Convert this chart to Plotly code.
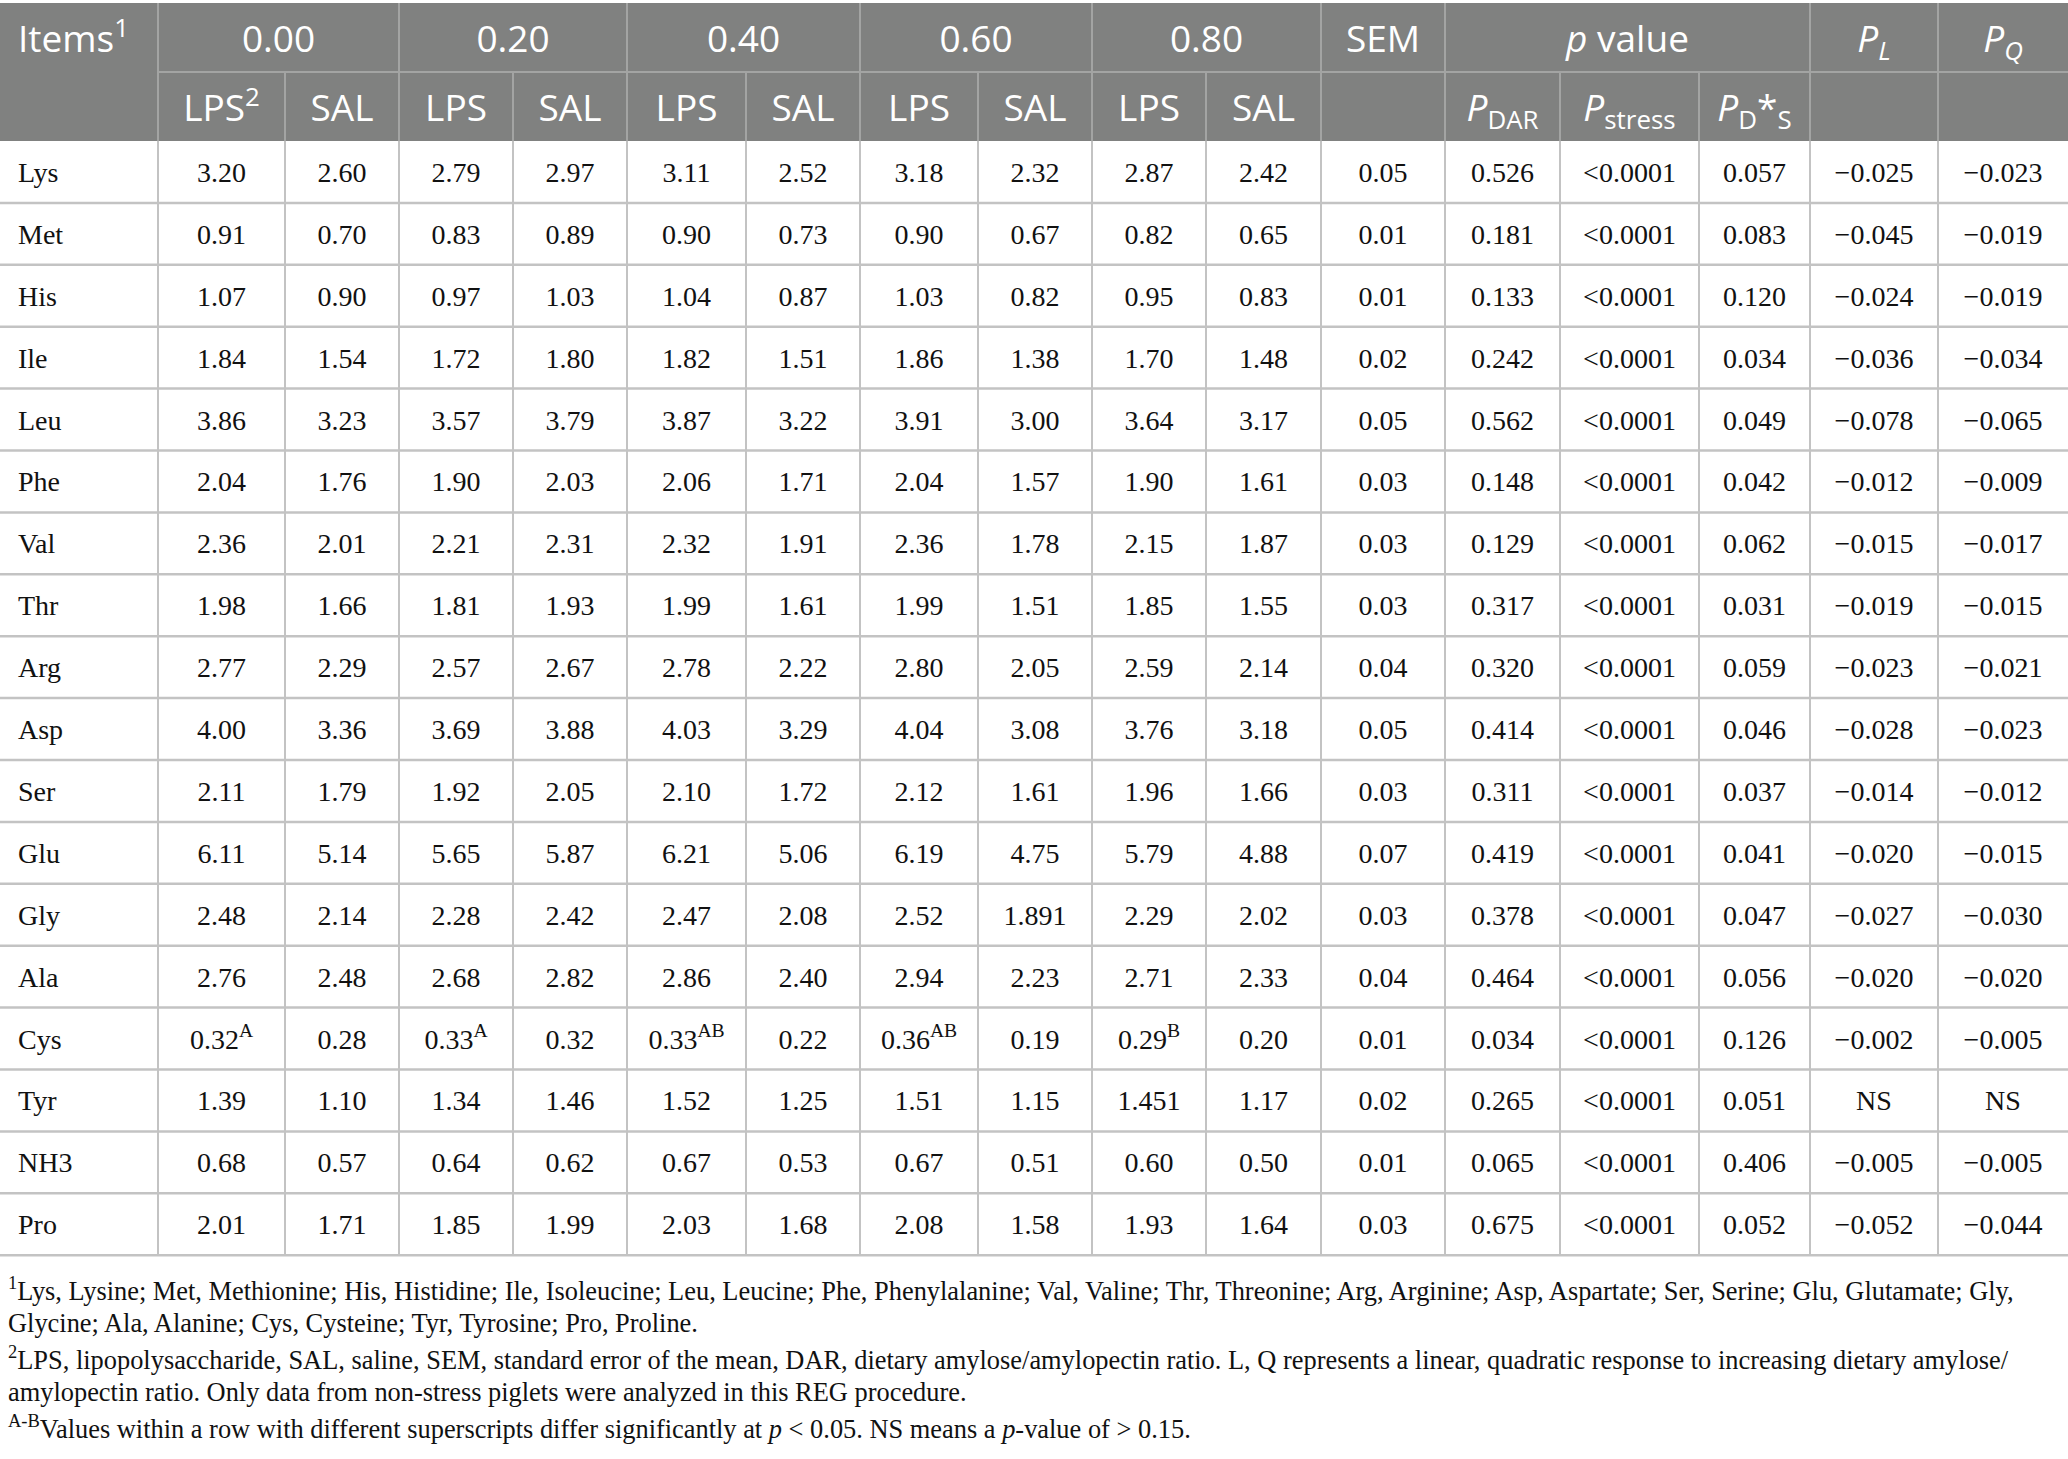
import plotly.graph_objects as go

# ----------------------------- table content -----------------------------
items = ["Lys", "Met", "His", "Ile", "Leu", "Phe", "Val", "Thr", "Arg",
         "Asp", "Ser", "Glu", "Gly", "Ala", "Cys", "Tyr", "NH3", "Pro"]

lps_000 = ["3.20", "0.91", "1.07", "1.84", "3.86", "2.04", "2.36", "1.98", "2.77",
           "4.00", "2.11", "6.11", "2.48", "2.76", "0.32<sup>A</sup>", "1.39", "0.68", "2.01"]
sal_000 = ["2.60", "0.70", "0.90", "1.54", "3.23", "1.76", "2.01", "1.66", "2.29",
           "3.36", "1.79", "5.14", "2.14", "2.48", "0.28", "1.10", "0.57", "1.71"]
lps_020 = ["2.79", "0.83", "0.97", "1.72", "3.57", "1.90", "2.21", "1.81", "2.57",
           "3.69", "1.92", "5.65", "2.28", "2.68", "0.33<sup>A</sup>", "1.34", "0.64", "1.85"]
sal_020 = ["2.97", "0.89", "1.03", "1.80", "3.79", "2.03", "2.31", "1.93", "2.67",
           "3.88", "2.05", "5.87", "2.42", "2.82", "0.32", "1.46", "0.62", "1.99"]
lps_040 = ["3.11", "0.90", "1.04", "1.82", "3.87", "2.06", "2.32", "1.99", "2.78",
           "4.03", "2.10", "6.21", "2.47", "2.86", "0.33<sup>AB</sup>", "1.52", "0.67", "2.03"]
sal_040 = ["2.52", "0.73", "0.87", "1.51", "3.22", "1.71", "1.91", "1.61", "2.22",
           "3.29", "1.72", "5.06", "2.08", "2.40", "0.22", "1.25", "0.53", "1.68"]
lps_060 = ["3.18", "0.90", "1.03", "1.86", "3.91", "2.04", "2.36", "1.99", "2.80",
           "4.04", "2.12", "6.19", "2.52", "2.94", "0.36<sup>AB</sup>", "1.51", "0.67", "2.08"]
sal_060 = ["2.32", "0.67", "0.82", "1.38", "3.00", "1.57", "1.78", "1.51", "2.05",
           "3.08", "1.61", "4.75", "1.891", "2.23", "0.19", "1.15", "0.51", "1.58"]
lps_080 = ["2.87", "0.82", "0.95", "1.70", "3.64", "1.90", "2.15", "1.85", "2.59",
           "3.76", "1.96", "5.79", "2.29", "2.71", "0.29<sup>B</sup>", "1.451", "0.60", "1.93"]
sal_080 = ["2.42", "0.65", "0.83", "1.48", "3.17", "1.61", "1.87", "1.55", "2.14",
           "3.18", "1.66", "4.88", "2.02", "2.33", "0.20", "1.17", "0.50", "1.64"]
sem = ["0.05", "0.01", "0.01", "0.02", "0.05", "0.03", "0.03", "0.03", "0.04",
       "0.05", "0.03", "0.07", "0.03", "0.04", "0.01", "0.02", "0.01", "0.03"]
p_dar = ["0.526", "0.181", "0.133", "0.242", "0.562", "0.148", "0.129", "0.317", "0.320",
         "0.414", "0.311", "0.419", "0.378", "0.464", "0.034", "0.265", "0.065", "0.675"]
p_stress = ["&lt;0.0001"] * 18
p_dxs = ["0.057", "0.083", "0.120", "0.034", "0.049", "0.042", "0.062", "0.031", "0.059",
         "0.046", "0.037", "0.041", "0.047", "0.056", "0.126", "0.051", "0.406", "0.052"]
p_l = ["−0.025", "−0.045", "−0.024", "−0.036", "−0.078", "−0.012", "−0.015", "−0.019", "−0.023",
       "−0.028", "−0.014", "−0.020", "−0.027", "−0.020", "−0.002", "NS", "−0.005", "−0.052"]
p_q = ["−0.023", "−0.019", "−0.019", "−0.034", "−0.065", "−0.009", "−0.017", "−0.015", "−0.021",
       "−0.023", "−0.012", "−0.015", "−0.030", "−0.020", "−0.005", "NS", "−0.005", "−0.044"]

group_labels = ["0.00", "0.20", "0.40", "0.60", "0.80"]
sub_labels = ["LPS<sup>2</sup>", "SAL", "LPS", "SAL", "LPS", "SAL", "LPS", "SAL", "LPS", "SAL",
              "", "<i>P</i><sub>DAR</sub>", "<i>P</i><sub>stress</sub>", "<i>P</i><sub>D</sub>*<sub>S</sub>", "", ""]

footnotes = [
    "<sup>1</sup>Lys, Lysine; Met, Methionine; His, Histidine; Ile, Isoleucine; Leu, Leucine; Phe, Phenylalanine; "
    "Val, Valine; Thr, Threonine; Arg, Arginine; Asp, Aspartate; Ser, Serine; Glu, Glutamate; Gly,",
    "Glycine; Ala, Alanine; Cys, Cysteine; Tyr, Tyrosine; Pro, Proline.",
    "<sup>2</sup>LPS, lipopolysaccharide, SAL, saline, SEM, standard error of the mean, DAR, dietary "
    "amylose/amylopectin ratio. L, Q represents a linear, quadratic response to increasing dietary amylose/",
    "amylopectin ratio. Only data from non-stress piglets were analyzed in this REG procedure.",
    "<sup>A-B</sup>Values within a row with different superscripts differ significantly at <i>p</i> &lt; 0.05. "
    "NS means a <i>p</i>-value of &gt; 0.15.",
]

columns = [lps_000, sal_000, lps_020, sal_020, lps_040, sal_040, lps_060, sal_060,
           lps_080, sal_080, sem, p_dar, p_stress, p_dxs, p_l, p_q]

# ----------------------------- geometry (pixels) -------------------------
W, H = 2068, 1459
edges = [0, 158, 285, 399, 513, 627, 746, 860, 978, 1092, 1206, 1321, 1445, 1560, 1699, 1810, 1938, 2068]
top, mid, head_bot = 3, 72, 141
row_h = 61.9
n = len(items)
row_y = [head_bot + row_h * (i + 0.5) + 3 for i in range(n)]
table_bot = head_bot + row_h * n

head_bg = "#808180"
head_line = "#a3a4a3"
grid = "#c3c3c3"
serif = "Liberation Serif"
sans = "Open Sans"

fig = go.Figure()

# ----------------------------- shapes ------------------------------------
shapes = [dict(type="rect", x0=0, x1=W, y0=top, y1=head_bot, fillcolor=head_bg,
               line=dict(width=0), layer="below")]
# header lines
shapes.append(dict(type="line", x0=edges[1], x1=W, y0=mid, y1=mid, line=dict(color=head_line, width=2)))
top_edges = [edges[1], edges[3], edges[5], edges[7], edges[9], edges[11], edges[12], edges[15], edges[16]]
for x in top_edges:
    shapes.append(dict(type="line", x0=x, x1=x, y0=top, y1=head_bot, line=dict(color=head_line, width=2)))
for x in [edges[2], edges[4], edges[6], edges[8], edges[10], edges[13], edges[14]]:
    shapes.append(dict(type="line", x0=x, x1=x, y0=mid, y1=head_bot, line=dict(color=head_line, width=2)))
# body grid
for x in edges[1:-1]:
    shapes.append(dict(type="line", x0=x, x1=x, y0=head_bot, y1=table_bot, line=dict(color=grid, width=2)))
for i in range(1, n + 1):
    y = head_bot + row_h * i
    shapes.append(dict(type="line", x0=0, x1=W, y0=y, y1=y, line=dict(color=grid, width=2.5)))

# ----------------------------- header text -------------------------------
head_font = dict(family=sans, size=37, color="white")
fig.add_trace(go.Scatter(x=[18], y=[43], text=["Items<sup>1</sup>"], mode="text",
                         textposition="middle right", textfont=head_font, hoverinfo="skip"))
top_x = [(edges[1 + 2 * k] + edges[3 + 2 * k]) / 2 for k in range(5)]
fig.add_trace(go.Scatter(x=top_x, y=[43] * 5, text=group_labels, mode="text",
                         textfont=head_font, hoverinfo="skip"))
fig.add_trace(go.Scatter(
    x=[(edges[11] + edges[12]) / 2, (edges[12] + edges[15]) / 2,
       (edges[15] + edges[16]) / 2, (edges[16] + edges[17]) / 2],
    y=[43] * 4,
    text=["SEM", "<i>p</i> value", "<i>P<sub>L</sub></i>", "<i>P<sub>Q</sub></i>"],
    mode="text", textfont=head_font, hoverinfo="skip"))
# second header row: skip the empty cells under SEM, P_L and P_Q
sub_x, sub_t = [], []
for j, lab in enumerate(sub_labels):
    if lab:
        sub_x.append((edges[j + 1] + edges[j + 2]) / 2)
        sub_t.append(lab)
fig.add_trace(go.Scatter(x=sub_x, y=[112] * len(sub_t), text=sub_t, mode="text",
                         textfont=head_font, hoverinfo="skip"))

# ----------------------------- body text ---------------------------------
body_font = dict(family=serif, size=28, color="#111111")
fig.add_trace(go.Scatter(x=[18] * n, y=row_y, text=items, mode="text",
                         textposition="middle right", textfont=body_font, hoverinfo="skip"))
for j, col in enumerate(columns):
    fig.add_trace(go.Scatter(x=[(edges[j + 1] + edges[j + 2]) / 2] * n, y=row_y, text=col,
                             mode="text", textfont=body_font, hoverinfo="skip"))

# ----------------------------- footnotes ---------------------------------
note_y = [1289, 1323, 1358, 1392, 1427]
annotations = []
for txt, y in zip(footnotes, note_y):
    annotations.append(dict(x=6, y=y, xref="x", yref="y", text=txt, showarrow=False,
                            xanchor="left", yanchor="middle", align="left",
                            font=dict(family=serif, size=26.4, color="#111111")))

fig.update_layout(
    width=W, height=H,
    margin=dict(l=0, r=0, t=0, b=0),
    paper_bgcolor="white", plot_bgcolor="white",
    showlegend=False,
    shapes=shapes,
    annotations=annotations,
    xaxis=dict(range=[0, W], visible=False, fixedrange=True),
    yaxis=dict(range=[H, 0], visible=False, fixedrange=True),
)

fig.write_html("out.html", config={"displayModeBar": False},
               post_script="document.body.style.margin='0';document.body.style.overflow='hidden';")
